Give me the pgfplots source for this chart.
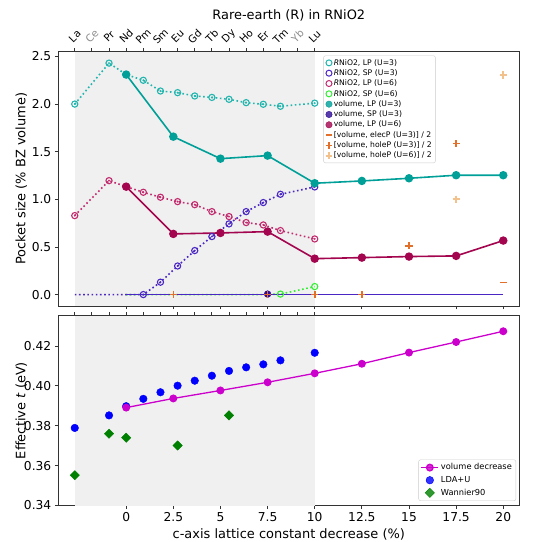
\documentclass[border=0pt]{standalone}
\usepackage{pgfplots}
\usepackage{pgfplotstable}
\pgfplotsset{compat=1.18}
\usepackage{fontspec}
\setmainfont{DejaVu Sans}

\definecolor{shade}{HTML}{F0F0F0}
\definecolor{tealA}{HTML}{22B5AE}
\definecolor{tealB}{HTML}{00A099}
\definecolor{indA}{HTML}{4A26C4}
\definecolor{indB}{HTML}{2E0C96}
\definecolor{magA}{HTML}{C22A6E}
\definecolor{magB}{HTML}{A3064F}
\definecolor{limeA}{HTML}{33EE33}
\definecolor{orA}{HTML}{E3702A}
\definecolor{orB}{HTML}{F3C28C}
\definecolor{mvol}{HTML}{CC00CC}
\definecolor{wgreen}{HTML}{008000}
\definecolor{ldab}{HTML}{0000FF}

% rare-earth series (La, Pr, Nd, Pm, Sm, Eu, Gd, Tb, Dy, Ho, Er, Tm, Lu)
\pgfplotstableread{
x       lp3    lp6    sp3
-2.7273 2.000  0.829  0
-0.9091 2.430  1.196  0
0       2.310  1.133  0
0.9091  2.250  1.074  0
1.8182  2.137  1.022  0.130
2.7273  2.120  0.976  0.300
3.6364  2.085  0.944  0.462
4.5455  2.070  0.871  0.609
5.4545  2.050  0.819  0.742
6.3636  2.015  0.756  0.871
7.2727  1.998  0.731  0.966
8.1818  1.977  0.672  1.053
10      2.010  0.584  1.130
}\rnio

\pgfplotstableread{
x      sp3
0.9091 0
1.8182 0.130
2.7273 0.300
3.6364 0.462
4.5455 0.609
5.4545 0.742
6.3636 0.871
7.2727 0.966
8.1818 1.053
10     1.130
}\spmarks

\pgfplotstableread{
x      sp6
0      0
0.9091 0
1.8182 0
2.7273 0
3.6364 0
4.5455 0
5.4545 0
6.3636 0
7.2727 0
8.1818 0.005
10     0.084
}\sixline

\pgfplotstableread{
x      sp6
8.1818 0.005
10     0.084
}\sixmarks

\pgfplotstableread{
x    lp3    lp6    sp3
0    2.310  1.133  0
2.5  1.658  0.637  0
5    1.427  0.647  0
7.5  1.459  0.661  0
10   1.169  0.377  0
12.5 1.193  0.388  0
15   1.221  0.399  0
17.5 1.253  0.406  0
20   1.253  0.567  0
}\vol

\pgfplotstableread{
x    y
2.5  0
7.5  0
10   0
12.5 0
15   0.511
17.5 1.585
20   2.300
}\holeA

\pgfplotstableread{
x    y
17.5 1.001
20   2.305
}\holeB

\pgfplotstableread{
x    y
20   0.126
}\elecA

% bottom panel
\pgfplotstableread{
x    t
0    0.3891
2.5  0.3937
5    0.3977
7.5  0.4018
10   0.4063
12.5 0.4111
15   0.4167
17.5 0.4220
20   0.4274
}\voldec

\pgfplotstableread{
x       t
-2.7273 0.3789
-0.9091 0.3852
0       0.3898
0.9091  0.3935
1.8182  0.3968
2.7273  0.4001
3.6364  0.4026
4.5455  0.4051
5.4545  0.4075
6.3636  0.4093
7.2727  0.4108
8.1818  0.4128
10      0.4166
}\lda

\pgfplotstableread{
x       t
-2.7273 0.3552
-0.9091 0.3760
0       0.3740
2.7273  0.3701
5.4545  0.3852
}\wan

\pgfplotsset{
  base/.style={
    scale only axis, width=461bp,
    xmin=-3.6, xmax=20.85,
    tick align=outside, major tick length=3.5bp,
    axis line style={black!80, line width=0.8bp},
    every tick/.style={black!80, line width=0.8bp},
    tick label style={font=\fontsize{12.3}{14}\selectfont},
    label style={font=\fontsize{13}{15}\selectfont},
    /pgf/number format/assume math mode=true,
    clip marker paths=false,
  },
  dotl/.style={line width=1.6bp, dash pattern=on 1.6bp off 2.6bp},
  openc/.style={mark=o, mark size=3.1bp, mark options={solid, line width=1.1bp}},
  cdot/.style={only marks, mark=*, mark size=0.75bp},
}

\begin{document}
\begin{tikzpicture}
\useasboundingbox (-58.3bp,-236bp) rectangle (479.7bp,306bp);

% ---------------- top panel (main) ----------------
\begin{axis}[base, height=254.3bp,
  ymin=-0.12, ymax=2.55,
  xtick={0,2.5,5,7.5,10,12.5,15,17.5,20}, xticklabels={}, xtick pos=bottom,
  ytick={0,0.5,1,1.5,2,2.5}, yticklabels={0.0,0.5,1.0,1.5,2.0,2.5}, ytick pos=left,
  ylabel={Pocket size (\% BZ volume)},
  ylabel style={at={(axis description cs:-0.0803,0.5)}, anchor=center},
  legend cell align=left,
  legend style={at={(0.575,0.985)}, anchor=north west,
    font=\fontsize{7.7}{9}\selectfont, draw=black!20, rounded corners=2pt,
    fill=white, fill opacity=0.8, text opacity=1, draw opacity=1,
    row sep=0bp, inner sep=2bp, nodes={inner sep=1.5bp}},
]
\addplot[fill=shade, draw=none, forget plot] coordinates {(-2.7273,-1) (10,-1) (10,3) (-2.7273,3)} -- cycle;

\addplot[tealA, dotl, openc, forget plot] table[x=x, y=lp3] {\rnio};
\addplot[tealA, cdot, forget plot] table[x=x, y=lp3] {\rnio};
\addplot[magA, dotl, openc, forget plot] table[x=x, y=lp6] {\rnio};
\addplot[magA, cdot, forget plot] table[x=x, y=lp6] {\rnio};
\addplot[indA, dotl, no marks, forget plot] table[x=x, y=sp3] {\rnio};
\addplot[indA, only marks, openc, forget plot] table[x=x, y=sp3] {\spmarks};
\addplot[indA, cdot, forget plot] table[x=x, y=sp3] {\spmarks};
\addplot[limeA, dotl, no marks, forget plot] table[x=x, y=sp6] {\sixline};
\addplot[limeA, only marks, openc, forget plot] table[x=x, y=sp6] {\sixmarks};

\addplot[tealB, line width=1.6bp, mark=*, mark size=3.4bp, forget plot] table[x=x, y=lp3] {\vol};
\addplot[magB, line width=1.6bp, mark=*, mark size=3.4bp, forget plot] table[x=x, y=lp6] {\vol};
\addplot[indA, line width=1.6bp, no marks, forget plot] table[x=x, y=sp3] {\vol};
\addplot[indB, only marks, mark=*, mark size=3.4bp, forget plot] coordinates {(7.5,0.005)};

\addplot[orA, only marks, mark=+, mark size=3.6bp, mark options={line width=1.6bp}, forget plot] table[x=x, y=y] {\holeA};
\addplot[orB, only marks, mark=+, mark size=3.6bp, mark options={line width=1.6bp}, forget plot] table[x=x, y=y] {\holeB};
\addplot[orA, only marks, mark=-, mark size=3.6bp, mark options={line width=1.6bp}, forget plot] table[x=x, y=y] {\elecA};

\addlegendimage{only marks, mark=o, tealA, mark size=3bp, line width=1bp}
\addlegendentry{\textit{R}NiO2, LP (U=3)}
\addlegendimage{only marks, mark=o, indA, mark size=3bp, line width=1bp}
\addlegendentry{\textit{R}NiO2, SP (U=3)}
\addlegendimage{only marks, mark=o, magA, mark size=3bp, line width=1bp}
\addlegendentry{\textit{R}NiO2, LP (U=6)}
\addlegendimage{only marks, mark=o, limeA, mark size=3bp, line width=1bp}
\addlegendentry{\textit{R}NiO2, SP (U=6)}
\addlegendimage{only marks, mark=*, tealB, mark size=3.2bp}
\addlegendentry{volume, LP (U=3)}
\addlegendimage{only marks, mark=*, indB, mark size=3.2bp}
\addlegendentry{volume, SP (U=3)}
\addlegendimage{only marks, mark=*, magB, mark size=3.2bp}
\addlegendentry{volume, LP (U=6)}
\addlegendimage{only marks, mark=-, orA, mark size=3.4bp, line width=1.5bp}
\addlegendentry{[volume, elecP (U=3)] / 2}
\addlegendimage{only marks, mark=+, orA, mark size=3.4bp, line width=1.5bp}
\addlegendentry{[volume, holeP (U=3)] / 2}
\addlegendimage{only marks, mark=+, orB, mark size=3.4bp, line width=1.5bp}
\addlegendentry{[volume, holeP (U=6)] / 2}
\end{axis}

% ---------------- top panel (rare-earth axis) ----------------
\begin{axis}[base, height=254.3bp, clip=false,
  ymin=-0.12, ymax=2.55,
  axis x line*=top, axis y line=none,
  xtick={-2.7273,-1.8182,-0.9091,0,0.9091,1.8182,2.7273,3.6364,4.5455,5.4545,6.3636,7.2727,8.1818,9.0909,10},
  xticklabels={La,{\color{black!45}Ce},Pr,Nd,Pm,Sm,Eu,Gd,Tb,Dy,Ho,Er,Tm,{\color{black!45}Yb},Lu},
  xticklabel style={font=\fontsize{10.3}{12}\selectfont, rotate=45, anchor=center},
  xticklabel shift=12bp,
]
\node[font=\fontsize{13}{15}\selectfont] at (rel axis cs:0.5,1) [yshift=36.5bp] {Rare-earth (R) in RNiO2};
\end{axis}

% ---------------- bottom panel (main) ----------------
\begin{axis}[base, at={(0,-9.7bp)}, anchor=north west, height=189.8bp,
  ymin=0.34, ymax=0.4352,
  xtick={0,2.5,5,7.5,10,12.5,15,17.5,20},
  xticklabels={0,2.5,5,7.5,10,12.5,15,17.5,20}, xtick pos=bottom,
  ytick={0.34,0.36,0.38,0.40,0.42}, yticklabels={0.34,0.36,0.38,0.40,0.42}, ytick pos=left,
  xlabel={c-axis lattice constant decrease (\%)},
  xlabel style={at={(axis description cs:0.5,-0.153)}, anchor=center},
  ylabel={Effective \textit{t} (eV)},
  ylabel style={at={(axis description cs:-0.0803,0.5)}, anchor=center},
  legend cell align=left,
  legend style={at={(0.993,0.024)}, anchor=south east,
    font=\fontsize{8.3}{10}\selectfont, draw=black!20, rounded corners=2pt,
    fill=white, fill opacity=0.8, text opacity=1, draw opacity=1,
    row sep=1bp, inner sep=2bp},
]
\addplot[fill=shade, draw=none, forget plot] coordinates {(-2.7273,0.3) (10,0.3) (10,0.5) (-2.7273,0.5)} -- cycle;
\addplot[ldab, only marks, mark=*, mark size=3.8bp, forget plot] table[x=x, y=t] {\lda};
\addplot[wgreen, only marks, mark=square*, mark size=3.3bp, mark options={rotate=45}, forget plot] table[x=x, y=t] {\wan};
\addplot[mvol, line width=1.3bp, mark=*, mark size=3.3bp, forget plot] table[x=x, y=t] {\voldec};

\addlegendimage{mvol, line width=1.3bp, mark=*, mark size=3.3bp}
\addlegendentry{volume decrease}
\addlegendimage{only marks, ldab, mark=*, mark size=3.8bp}
\addlegendentry{LDA+U}
\addlegendimage{only marks, wgreen, mark=square*, mark size=3.3bp, mark options={rotate=45}}
\addlegendentry{Wannier90}
\end{axis}

% ---------------- bottom panel (rare-earth ticks) ----------------
\begin{axis}[base, at={(0,-9.7bp)}, anchor=north west, height=189.8bp,
  ymin=0.34, ymax=0.4352,
  axis x line*=top, axis y line=none,
  xtick={-2.7273,-1.8182,-0.9091,0,0.9091,1.8182,2.7273,3.6364,4.5455,5.4545,6.3636,7.2727,8.1818,9.0909,10},
  xticklabels={},
]
\end{axis}
\end{tikzpicture}
\end{document}
